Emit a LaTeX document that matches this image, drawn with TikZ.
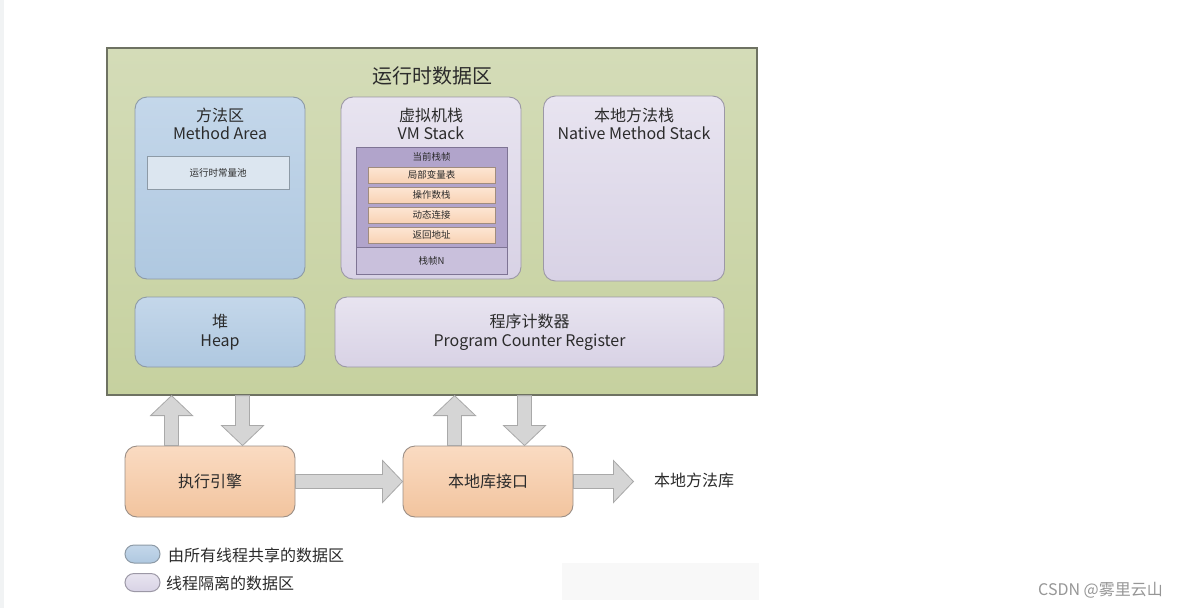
\documentclass[tikz,border=0pt]{standalone}
\usepackage{fontspec}
\setmainfont{Noto Sans CJK SC}
\usetikzlibrary{calc}
\definecolor{txt}{HTML}{2B2B2B}
\definecolor{gtop}{HTML}{D4DCB8}
\definecolor{gbot}{HTML}{C6D19F}
\definecolor{gline}{HTML}{6E7262}
\definecolor{btop}{HTML}{C4D7EA}
\definecolor{bbot}{HTML}{AFC8E0}
\definecolor{bline}{HTML}{8D9AA6}
\definecolor{ltop}{HTML}{E8E4F0}
\definecolor{lbot}{HTML}{D8D2E5}
\definecolor{lline}{HTML}{9C98A6}
\definecolor{pfill}{HTML}{B1A4CB}
\definecolor{pnfill}{HTML}{C9C0DC}
\definecolor{pline}{HTML}{7E7494}
\definecolor{otop}{HTML}{FDE6D4}
\definecolor{obot}{HTML}{F8D2B4}
\definecolor{oline}{HTML}{A08C7E}
\definecolor{Otop}{HTML}{FADBC2}
\definecolor{Obot}{HTML}{F2C49E}
\definecolor{Oline}{HTML}{9A8E86}
\definecolor{afill}{HTML}{D5D5D5}
\definecolor{aline}{HTML}{A9A9A9}
\definecolor{cpool}{HTML}{DCE6F0}
\newcommand\blockarr[2]{%
  \coordinate (hb) at ($(#2)!20pt!(#1)$);
  \draw[barrow] ($(#1)!7pt!90:(#2)$) -- ($(hb)!7pt!90:(#2)$) -- ($(hb)!21pt!90:(#2)$)
    -- (#2) -- ($(hb)!21pt!-90:(#2)$) -- ($(hb)!7pt!-90:(#2)$) -- ($(#1)!7pt!-90:(#2)$) -- cycle;}
\begin{document}
\begin{tikzpicture}[x=1pt,y=-1pt,
  every node/.style={text=txt, inner sep=0pt},
  greenbox/.style={draw=gline, line width=1.2pt, top color=gtop, bottom color=gbot},
  bluebox/.style={draw=bline, line width=0.9pt, rounded corners=12pt, top color=btop, bottom color=bbot},
  lavbox/.style={draw=lline, line width=0.9pt, rounded corners=12pt, top color=ltop, bottom color=lbot},
  orbox/.style={draw=Oline, line width=0.9pt, rounded corners=12pt, top color=Otop, bottom color=Obot},
  itembox/.style={draw=oline, line width=0.7pt, top color=otop, bottom color=obot, minimum width=127pt, minimum height=16pt, font=\fontsize{9.5}{11}\selectfont},
  lbl/.style={align=center, font=\fontsize{16}{18.5}\selectfont},
  small/.style={font=\fontsize{9.5}{11}\selectfont},
  barrow/.style={draw=aline, fill=afill, line width=0.8pt, line join=miter},
  pill/.style={rounded corners=9pt, line width=1pt, minimum width=35pt, minimum height=18pt}
]
\useasboundingbox (0,0) rectangle (1177,608);
\fill[white] (0,0) rectangle (1177,608);
\fill[fill={rgb,255:red,241;green,243;blue,244}] (0,0) rectangle (4,608);
\fill[fill={rgb,255:red,248;green,248;blue,248}] (562,563) rectangle (759,600);

% runtime data area
\node[greenbox, minimum width=650pt, minimum height=347pt] (rt) at (432,221.5) {};
\node[font=\fontsize{20}{22}\selectfont] (rtl) at (432,76) {运行时数据区};

% method area
\node[bluebox, minimum width=170pt, minimum height=182pt] (ma) at (220,188) {};
\node[lbl] (mal) at (220,124) {方法区\\Method Area};
\node[draw=bline, line width=0.8pt, fill=cpool, minimum width=142pt, minimum height=33pt, small] (cp) at (218,172.5) {运行时常量池};

% VM stack
\node[lavbox, minimum width=180pt, minimum height=182pt] (vm) at (431,188) {};
\node[lbl] (vml) at (431,124) {虚拟机栈\\VM Stack};
\node[draw=pline, line width=0.8pt, fill=pfill, minimum width=151pt, minimum height=100pt] (cf) at (431.5,197) {};
\node[draw=pline, line width=0.8pt, fill=pnfill, minimum width=151pt, minimum height=27pt, small] (fn) at (431.5,260.5) {栈帧N};
\node[small] (cfl) at (431.5,157) {当前栈帧};
\node[itembox] (i1) at (431.5,175) {局部变量表};
\node[itembox] (i2) at (431.5,195) {操作数栈};
\node[itembox] (i3) at (431.5,215) {动态连接};
\node[itembox] (i4) at (431.5,235) {返回地址};

% native method stack
\node[lavbox, minimum width=181pt, minimum height=185pt] (ns) at (634,188.5) {};
\node[lbl] (nsl) at (634,124) {本地方法栈\\Native Method Stack};

% heap & PC
\node[bluebox, minimum width=170pt, minimum height=70pt, lbl] (heap) at (220,332) {堆\\Heap};
\node[lavbox, minimum width=389pt, minimum height=70pt, lbl] (pc) at (529.5,332) {程序计数器\\Program Counter Register};

% execution engine, native interface
\node[orbox, minimum width=170pt, minimum height=71pt, lbl] (ex) at (210,481.5) {执行引擎};
\node[orbox, minimum width=170pt, minimum height=71pt, lbl] (ni) at (488,481.5) {本地库接口};
\node[lbl, anchor=west] (lib) at (654,480) {本地方法库};

% arrows
\coordinate (u1s) at ($(ex.north west)+(47,0)$);
\coordinate (u1e) at (u1s |- rt.south);
\coordinate (d1e) at ($(ex.north west)+(118,0)$);
\coordinate (d1s) at (d1e |- rt.south);
\coordinate (u2s) at ($(ni.north west)+(52,0)$);
\coordinate (u2e) at (u2s |- rt.south);
\coordinate (d2e) at ($(ni.north west)+(122,0)$);
\coordinate (d2s) at (d2e |- rt.south);
\coordinate (libe) at ($(ni.east)+(60,0)$);
\blockarr{u1s}{u1e}
\blockarr{d1s}{d1e}
\blockarr{u2s}{u2e}
\blockarr{d2s}{d2e}
\blockarr{ex.east}{ni.west}
\blockarr{ni.east}{libe}

% legend
\node[pill, draw=bline, top color=btop, bottom color=bbot] (lg1) at (142.5,554) {};
\node[pill, draw=lline, top color=ltop, bottom color=lbot] (lg2) at (142.5,582.5) {};
\node[lbl, anchor=west] (lt1) at (168,555) {由所有线程共享的数据区};
\node[lbl, anchor=west] (lt2) at (166,583) {线程隔离的数据区};

\node[anchor=east, text={rgb,255:red,150;green,150;blue,150}, font=\fontsize{16}{18}\selectfont] (wm) at (1163,590) {CSDN @雾里云山};
\end{tikzpicture}
\end{document}
